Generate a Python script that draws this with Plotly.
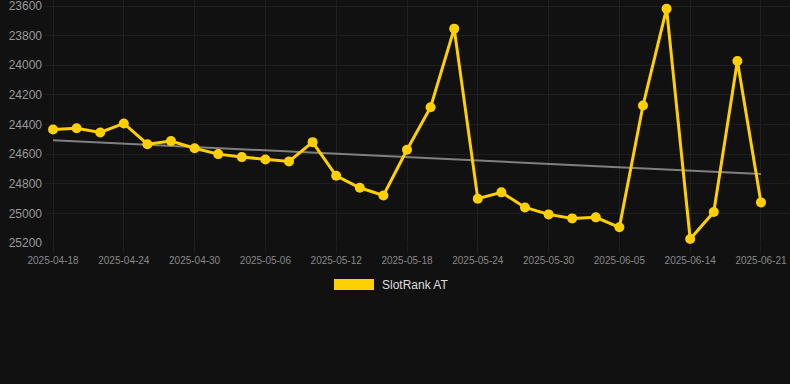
import numpy as np
import plotly.graph_objects as go

dates = ["2025-04-18", "2025-04-20", "2025-04-22", "2025-04-24", "2025-04-26",
         "2025-04-28", "2025-04-30", "2025-05-02", "2025-05-04", "2025-05-06",
         "2025-05-08", "2025-05-10", "2025-05-12", "2025-05-14", "2025-05-16",
         "2025-05-18", "2025-05-20", "2025-05-22", "2025-05-24", "2025-05-26",
         "2025-05-28", "2025-05-30", "2025-06-01", "2025-06-03", "2025-06-05",
         "2025-06-08", "2025-06-11", "2025-06-14", "2025-06-16", "2025-06-19",
         "2025-06-21"]
ranks = [24434, 24425, 24454, 24393, 24533, 24512, 24560, 24600, 24620, 24636,
         24649, 24519, 24746, 24827, 24879, 24571, 24283, 23753, 24901, 24858,
         24960, 25007, 25034, 25027, 25094, 24272, 23618, 25173, 24991, 23971,
         24926]
series_name = "SlotRank AT"
y_ticks = [23600, 23800, 24000, 24200, 24400, 24600, 24800, 25000, 25200]

idx = np.arange(len(dates))
slope, intercept = np.polyfit(idx, ranks, 1)
trend = slope * idx + intercept

gold = "#FFD000"
fig = go.Figure()
fig.add_trace(go.Scatter(x=idx, y=trend, mode="lines",
                         line=dict(color="#808080", width=2),
                         hoverinfo="skip", showlegend=False, cliponaxis=False))
fig.add_trace(go.Scatter(x=idx, y=ranks, mode="lines+markers", name=series_name,
                         line=dict(color=gold, width=3),
                         marker=dict(color=gold, size=10),
                         cliponaxis=False, showlegend=False))

tick_idx = list(range(0, len(dates), 3))
fig.update_layout(
    width=790, height=384,
    paper_bgcolor="#111111", plot_bgcolor="#111111",
    margin=dict(l=45, r=0, t=0, b=141),
    font=dict(family="Arial, Liberation Sans, sans-serif"),
    xaxis=dict(range=[-0.34, len(dates) - 1 + 1.23], tickmode="array",
               tickvals=tick_idx, ticktext=[dates[i] for i in tick_idx],
               showgrid=True, gridcolor="#1e1e1e", zeroline=False,
               tickfont=dict(color="#888888", size=10), ticks="outside",
               ticklen=8, tickcolor="#1e1e1e", tickangle=0),
    yaxis=dict(range=[25200, 23559.5], tickmode="array", tickvals=y_ticks,
               tickformat="d", ticklabeloverflow="allow",
               showgrid=True, gridcolor="#1e1e1e", zeroline=False,
               tickfont=dict(color="#999999", size=12), ticks="",
               ticklabelstandoff=2),
    shapes=[dict(type="rect", xref="paper", yref="paper",
                 x0=(334 - 45) / 745, x1=(374 - 45) / 745,
                 y0=(243 - 290) / 243, y1=(243 - 279) / 243,
                 fillcolor=gold, line=dict(width=0))],
    annotations=[dict(text=series_name, xref="paper", yref="paper",
                      x=(380 - 45) / 745, y=(243 - 284.5) / 243,
                      xanchor="left", yanchor="middle", showarrow=False,
                      font=dict(color="#dddddd", size=12))],
)
fig.write_html("out.html", config={"displayModeBar": False},
               post_script="document.body.style.margin='0';"
                           "document.body.style.overflow='hidden';"
                           "document.body.style.background='#111111';")
